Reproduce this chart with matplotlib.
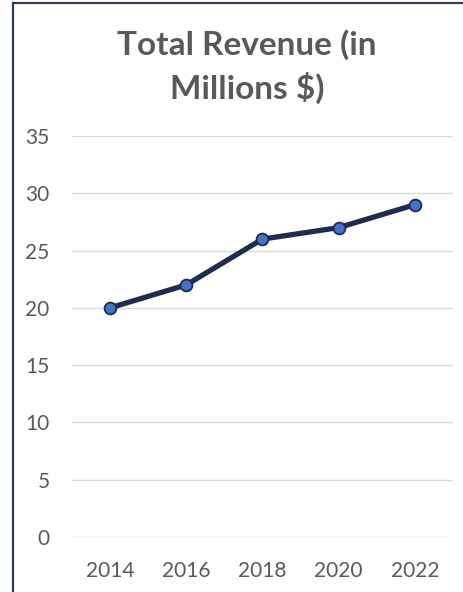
import matplotlib
matplotlib.use("Agg")
import matplotlib.pyplot as plt
from matplotlib.lines import Line2D

plt.rcParams['font.family'] = ['Lato', 'DejaVu Sans']

years = ['2014', '2016', '2018', '2020', '2022']
revenue = [20, 22, 26, 27, 29]
y_ticks = [0, 5, 10, 15, 20, 25, 30, 35]

text_grey = '#595959'
navy = '#1f2c52'

fig = plt.figure(figsize=(4.64, 5.92), dpi=100)
ax = fig.add_axes([0.155, 0.0929, 0.821, 0.6774])

x = range(len(years))
ax.plot(x, revenue, color=navy, linewidth=3.8, marker='o', markersize=8.5,
        markerfacecolor='#4472c4', markeredgecolor=navy, markeredgewidth=1.3,
        solid_capstyle='round', zorder=3)

ax.set_xlim(-0.5, len(years) - 0.5)
ax.set_ylim(0, 35)
ax.set_xticks(list(x))
ax.set_xticklabels(years)
ax.set_yticks(y_ticks)
ax.grid(axis='y', color='#d9d9d9', linewidth=1)
ax.set_axisbelow(True)
for s in ax.spines.values():
    s.set_visible(False)
ax.tick_params(length=0, labelsize=15, colors=text_grey)
ax.tick_params(axis='x', pad=17)
ax.tick_params(axis='y', pad=16)

fig.text(0.532, 0.924, 'Total Revenue (in', ha='center', va='center',
         fontsize=24, fontweight='bold', color=text_grey)
fig.text(0.532, 0.851, 'Millions $)', ha='center', va='center',
         fontsize=24, fontweight='bold', color=text_grey)

# frame edges along top and left
fig.add_artist(Line2D([0.027, 1.0], [0.9945, 0.9945], color='#2f3a5c', linewidth=1.6))
fig.add_artist(Line2D([0.027, 0.027], [0.0, 0.9945], color='#2f3a5c', linewidth=1.6))

fig.savefig('out.png', dpi=100)
